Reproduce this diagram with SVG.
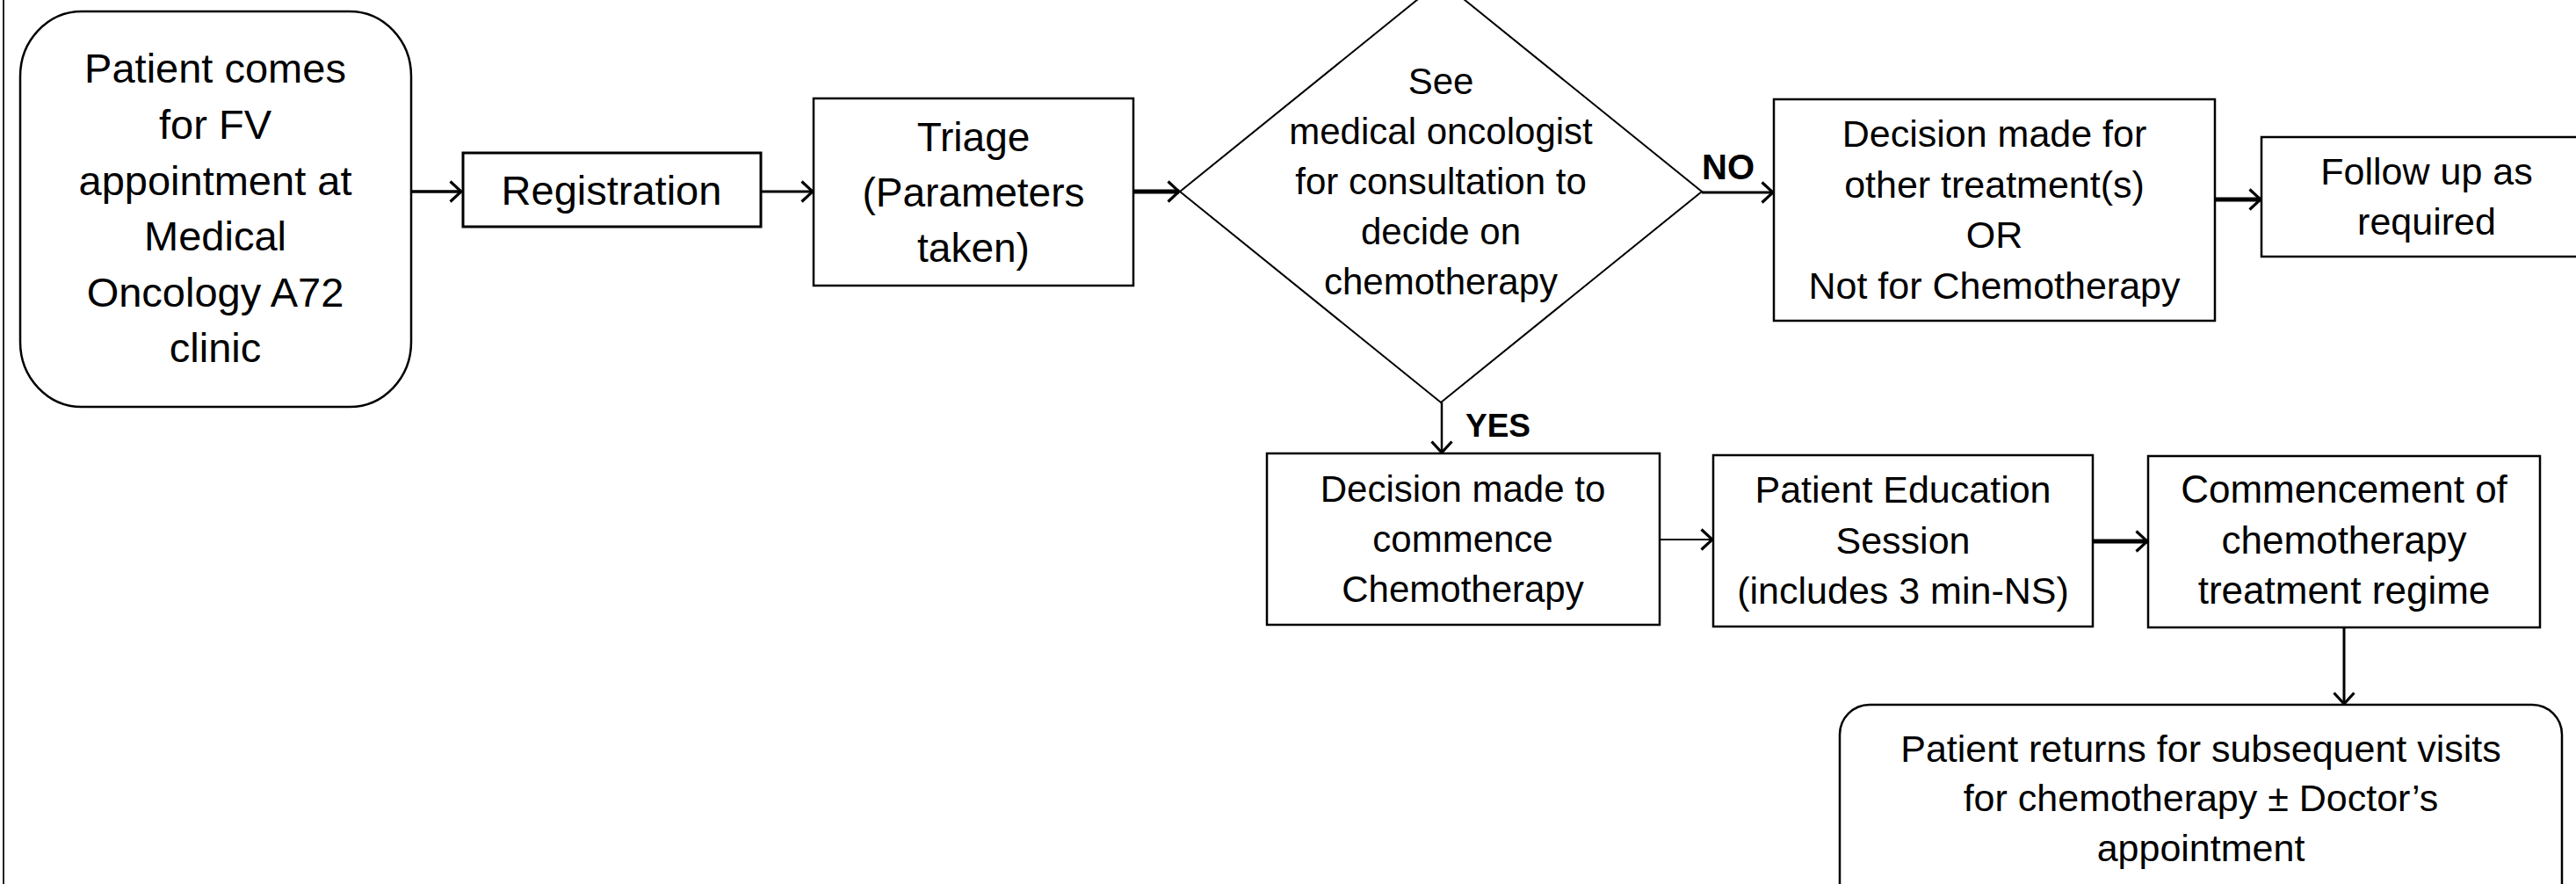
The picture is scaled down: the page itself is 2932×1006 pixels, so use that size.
<svg xmlns="http://www.w3.org/2000/svg" width="2932" height="1006" viewBox="0 0 2932 1006">
<style>
text{font-family:"Liberation Sans",Arial,sans-serif;fill:#000;text-anchor:middle}
.box{fill:#fff;stroke:#000;stroke-width:2.5}
.dia{fill:#fff;stroke:#000;stroke-width:2}
.c{fill:none;stroke:#000}
.lbl{font-weight:bold;text-anchor:start}
</style>
<defs>
<marker id="ah" viewBox="0 0 16 26" refX="14" refY="13" markerWidth="16" markerHeight="26" markerUnits="userSpaceOnUse" orient="auto">
<path d="M1.5,1.5 L14,13 L1.5,24.5" fill="none" stroke="#000" stroke-width="3.2"/>
</marker>
</defs>
<rect width="2932" height="1006" fill="#fff"/>
<line x1="4" y1="0" x2="4" y2="1006" stroke="#222" stroke-width="2"/>

<g id="start">
<rect class="box" x="23" y="13" width="445" height="450" rx="70" ry="74"/>
<text font-size="47"><tspan x="245" y="94">Patient comes</tspan><tspan x="245" y="158">for FV</tspan><tspan x="245" y="222">appointment at</tspan><tspan x="245" y="285">Medical</tspan><tspan x="245" y="349">Oncology A72</tspan><tspan x="245" y="412">clinic</tspan></text>
</g>
<g id="registration">
<rect class="box" x="527" y="174" width="339" height="84" style="stroke-width:3"/>
<text font-size="47" x="696" y="233">Registration</text>
</g>
<g id="triage">
<rect class="box" x="926" y="112" width="364" height="213"/>
<text font-size="46"><tspan x="1108" y="172">Triage</tspan><tspan x="1108" y="235">(Parameters</tspan><tspan x="1108" y="298">taken)</tspan></text>
</g>
<g id="consult">
<polygon class="dia" points="1640,-22 1937,218 1640,458 1343,218"/>
<text font-size="42"><tspan x="1640" y="107">See</tspan><tspan x="1640" y="164">medical oncologist</tspan><tspan x="1640" y="221">for consultation to</tspan><tspan x="1640" y="278">decide on</tspan><tspan x="1640" y="335">chemotherapy</tspan></text>
</g>
<g id="other">
<rect class="box" x="2019" y="113" width="502" height="252"/>
<text font-size="43"><tspan x="2270" y="167">Decision made for</tspan><tspan x="2270" y="225">other treatment(s)</tspan><tspan x="2270" y="282">OR</tspan><tspan x="2270" y="340">Not for Chemotherapy</tspan></text>
</g>
<g id="followup">
<rect class="box" x="2574" y="156" width="380" height="136"/>
<text font-size="43"><tspan x="2762" y="210">Follow up as</tspan><tspan x="2762" y="267">required</tspan></text>
</g>
<g id="commence">
<rect class="box" x="1442" y="516" width="447" height="195"/>
<text font-size="42"><tspan x="1665" y="571">Decision made to</tspan><tspan x="1665" y="628">commence</tspan><tspan x="1665" y="685">Chemotherapy</tspan></text>
</g>
<g id="education">
<rect class="box" x="1950" y="518" width="432" height="195"/>
<text font-size="43"><tspan x="2166" y="572">Patient Education</tspan><tspan x="2166" y="630">Session</tspan><tspan x="2166" y="687">(includes 3 min-NS)</tspan></text>
</g>
<g id="commencement">
<rect class="box" x="2445" y="519" width="446" height="195"/>
<text font-size="44"><tspan x="2668" y="572">Commencement of</tspan><tspan x="2668" y="630">chemotherapy</tspan><tspan x="2668" y="687">treatment regime</tspan></text>
</g>
<g id="returns">
<rect class="box" x="2094" y="802" width="822" height="260" rx="34" ry="34"/>
<text font-size="43"><tspan x="2505" y="867">Patient returns for subsequent visits</tspan><tspan x="2505" y="923">for chemotherapy ± Doctor’s</tspan><tspan x="2505" y="980">appointment</tspan></text>
</g>

<g id="connectors">
<line class="c" x1="468" y1="218" x2="525" y2="218" stroke-width="3.5" marker-end="url(#ah)"/>
<line class="c" x1="866" y1="218" x2="925" y2="218" stroke-width="3" marker-end="url(#ah)"/>
<line class="c" x1="1290" y1="218" x2="1342" y2="218" stroke-width="5" marker-end="url(#ah)"/>
<line class="c" x1="1937" y1="219" x2="2018" y2="219" stroke-width="3" marker-end="url(#ah)"/>
<line class="c" x1="2521" y1="227" x2="2573" y2="227" stroke-width="5" marker-end="url(#ah)"/>
<line class="c" x1="1641" y1="458" x2="1641" y2="515" stroke-width="2.5" marker-end="url(#ah)"/>
<line class="c" x1="1889" y1="614" x2="1949" y2="614" stroke-width="2" marker-end="url(#ah)"/>
<line class="c" x1="2382" y1="616" x2="2444" y2="616" stroke-width="5" marker-end="url(#ah)"/>
<line class="c" x1="2668" y1="714" x2="2668" y2="801" stroke-width="3" marker-end="url(#ah)"/>
<text class="lbl" font-size="40" x="1937" y="204">NO</text>
<text class="lbl" font-size="37" x="1668" y="497">YES</text>
</g>
</svg>
